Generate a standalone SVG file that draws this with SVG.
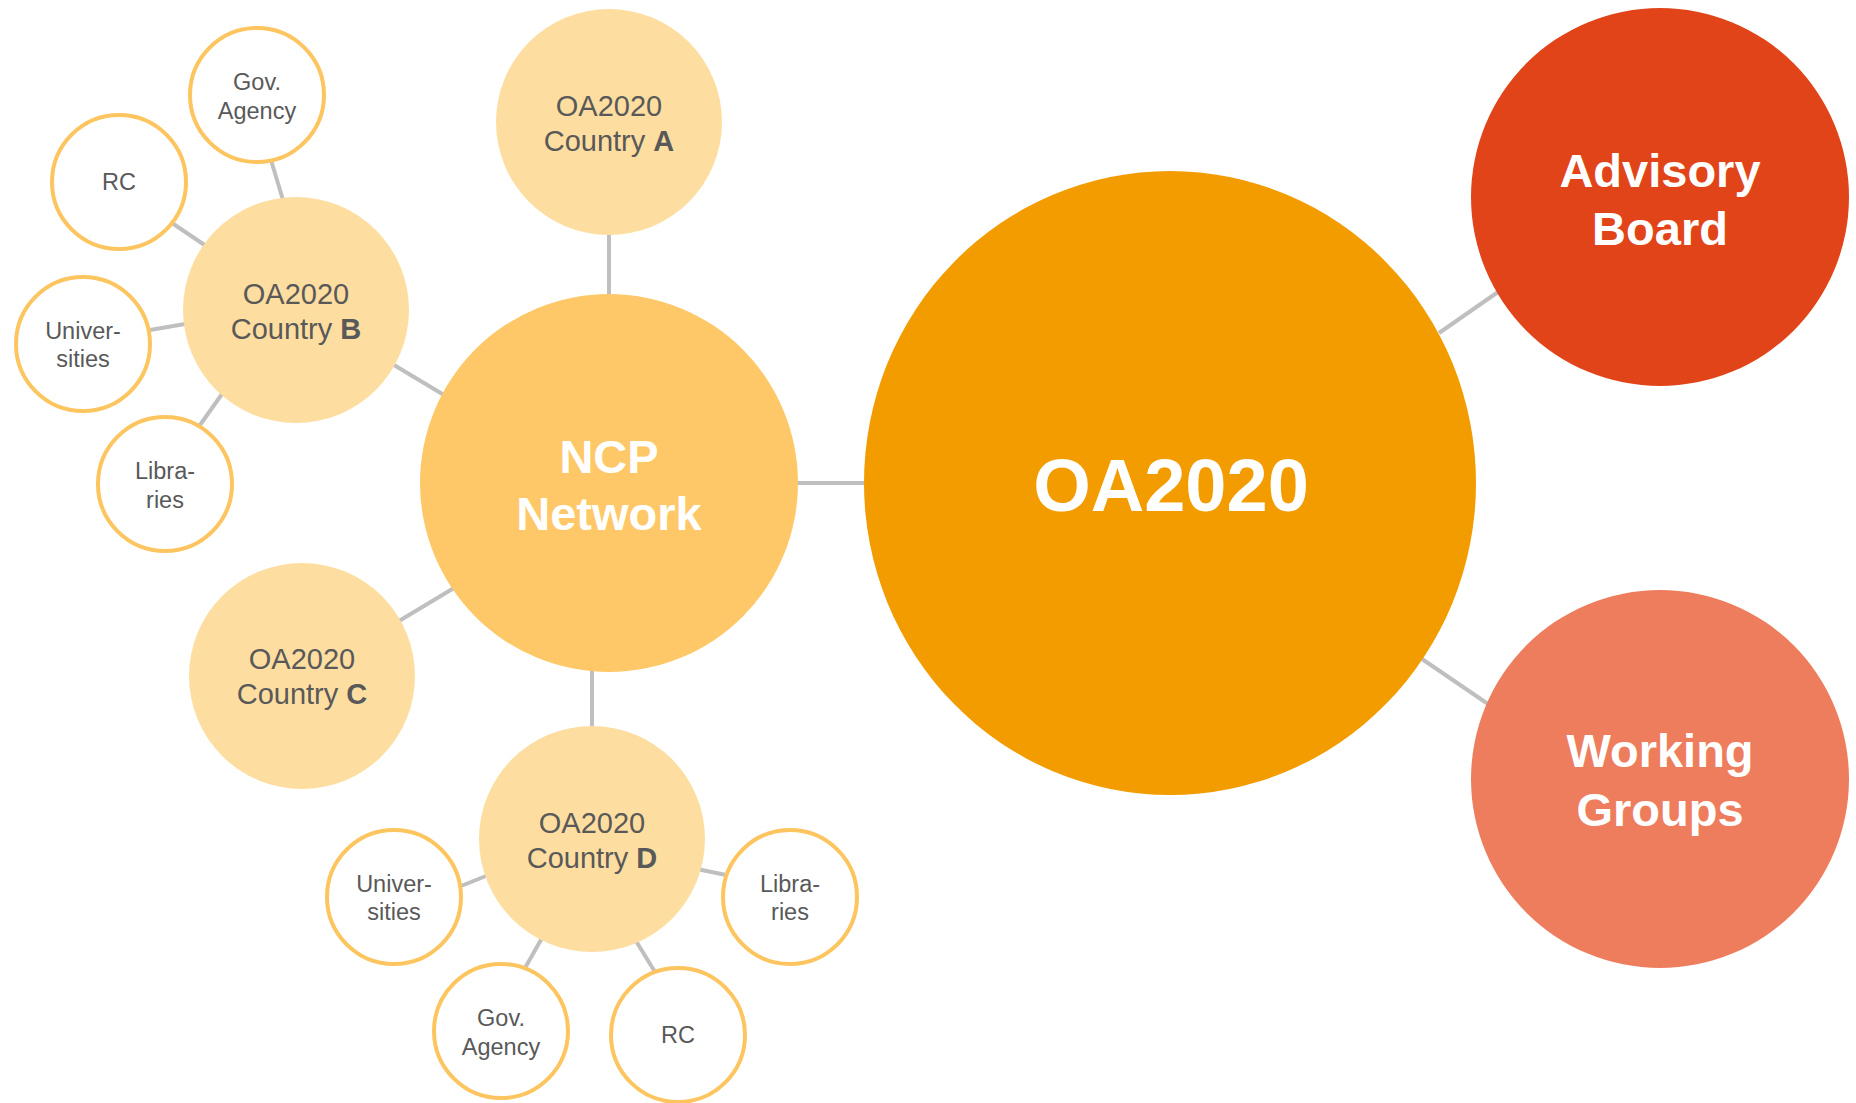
<svg xmlns="http://www.w3.org/2000/svg" width="1856" height="1103" viewBox="0 0 1856 1103">
<style>
.ln{stroke:#BFBFBF;stroke-width:4;fill:none}
.sm{fill:#FFFFFF;stroke:#FDC55F;stroke-width:4}
.ct{fill:#FDDEA0}
.st{font-family:"Liberation Sans",Arial,sans-serif;font-size:23.5px;fill:#595959;text-anchor:middle}
.tc{font-family:"Liberation Sans",Arial,sans-serif;font-size:29px;fill:#595959;text-anchor:middle}
.bt{font-family:"Liberation Sans",Arial,sans-serif;font-weight:bold;fill:#FFFFFF;text-anchor:middle}
</style>
<rect width="1856" height="1103" fill="#FFFFFF"/>
<g id="connectors">
<line class="ln" x1="797" y1="483" x2="866" y2="483"/>
<line class="ln" x1="1439" y1="333" x2="1498" y2="292"/>
<line class="ln" x1="1422" y1="659" x2="1488" y2="704"/>
<line class="ln" x1="609" y1="233" x2="609" y2="296"/>
<line class="ln" x1="394" y1="365" x2="444" y2="395"/>
<line class="ln" x1="399" y1="621" x2="454" y2="588"/>
<line class="ln" x1="592" y1="670" x2="592" y2="728"/>
<line class="ln" x1="271" y1="160" x2="283" y2="200"/>
<line class="ln" x1="172" y1="223" x2="206" y2="246"/>
<line class="ln" x1="150" y1="330" x2="185" y2="324"/>
<line class="ln" x1="200" y1="425" x2="222" y2="394"/>
<line class="ln" x1="461" y1="886" x2="486" y2="876"/>
<line class="ln" x1="697" y1="869" x2="726" y2="875"/>
<line class="ln" x1="525" y1="968" x2="542" y2="938"/>
<line class="ln" x1="636" y1="941" x2="655" y2="972"/>
</g>
<g id="oa2020">
<ellipse cx="1170" cy="483" rx="306" ry="312" fill="#F29C00"/>
<text class="bt" x="1171" y="511" font-size="74">OA2020</text>
</g>
<g id="advisory-board">
<circle cx="1660" cy="197" r="189" fill="#E2441A"/>
<text class="bt" x="1660" y="187" font-size="47">Advisory</text>
<text class="bt" x="1660" y="245" font-size="47">Board</text>
</g>
<g id="working-groups">
<circle cx="1660" cy="779" r="189" fill="#EE7D5E"/>
<text class="bt" x="1660" y="767" font-size="47">Working</text>
<text class="bt" x="1660" y="826" font-size="47">Groups</text>
</g>
<g id="ncp-network">
<circle cx="609" cy="483" r="189" fill="#FEC868"/>
<text class="bt" x="609" y="473" font-size="47">NCP</text>
<text class="bt" x="609" y="530" font-size="47">Network</text>
</g>
<g id="country-a">
<circle class="ct" cx="609" cy="122" r="113"/>
<text class="tc" x="609" y="116">OA2020</text>
<text class="tc" x="609" y="151">Country <tspan font-weight="bold">A</tspan></text>
</g>
<g id="country-b">
<circle class="ct" cx="296" cy="310" r="113"/>
<text class="tc" x="296" y="304">OA2020</text>
<text class="tc" x="296" y="339">Country <tspan font-weight="bold">B</tspan></text>
</g>
<g id="country-c">
<circle class="ct" cx="302" cy="676" r="113"/>
<text class="tc" x="302" y="669">OA2020</text>
<text class="tc" x="302" y="704">Country <tspan font-weight="bold">C</tspan></text>
</g>
<g id="country-d">
<circle class="ct" cx="592" cy="839" r="113"/>
<text class="tc" x="592" y="833">OA2020</text>
<text class="tc" x="592" y="868">Country <tspan font-weight="bold">D</tspan></text>
</g>
<g id="b-gov-agency">
<circle class="sm" cx="257" cy="95" r="67"/>
<text class="st" x="257" y="90">Gov.</text>
<text class="st" x="257" y="119">Agency</text>
</g>
<g id="b-rc">
<circle class="sm" cx="119" cy="182" r="67"/>
<text class="st" x="119" y="190">RC</text>
</g>
<g id="b-universities">
<circle class="sm" cx="83" cy="344" r="67"/>
<text class="st" x="83" y="339">Univer-</text>
<text class="st" x="83" y="367">sities</text>
</g>
<g id="b-libraries">
<circle class="sm" cx="165" cy="484" r="67"/>
<text class="st" x="165" y="479">Libra-</text>
<text class="st" x="165" y="508">ries</text>
</g>
<g id="d-universities">
<circle class="sm" cx="394" cy="897" r="67"/>
<text class="st" x="394" y="892">Univer-</text>
<text class="st" x="394" y="920">sities</text>
</g>
<g id="d-libraries">
<circle class="sm" cx="790" cy="897" r="67"/>
<text class="st" x="790" y="892">Libra-</text>
<text class="st" x="790" y="920">ries</text>
</g>
<g id="d-gov-agency">
<circle class="sm" cx="501" cy="1031" r="67"/>
<text class="st" x="501" y="1026">Gov.</text>
<text class="st" x="501" y="1055">Agency</text>
</g>
<g id="d-rc">
<circle class="sm" cx="678" cy="1035" r="67"/>
<text class="st" x="678" y="1043">RC</text>
</g>
</svg>
